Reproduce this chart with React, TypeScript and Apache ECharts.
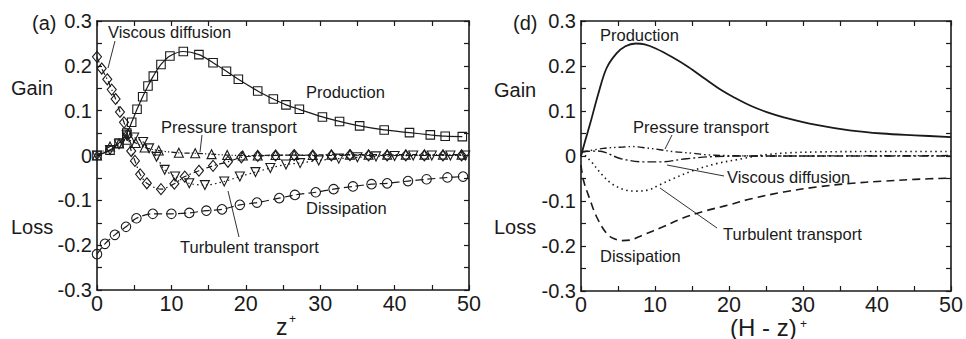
import React, { useEffect, useRef } from "react";
import * as echarts from "echarts";

// ---------- Data: panel (a), z+ ----------
const aProduction: [number, number][] = [
  [0, 0], [1.75, 0.012], [2.96, 0.028], [4.0, 0.05], [4.66, 0.074], [5.38, 0.103], [6.14, 0.131],
  [6.85, 0.155], [7.57, 0.177], [8.6, 0.203], [9.8, 0.222], [11.6, 0.232], [13.7, 0.225],
  [15.6, 0.207], [17.4, 0.188], [19.0, 0.17], [21.6, 0.144], [23.7, 0.126], [25.4, 0.113],
  [27.2, 0.103], [30.3, 0.086], [32.6, 0.076], [35.3, 0.066], [38.6, 0.057], [42.0, 0.051],
  [44.8, 0.046], [46.8, 0.043], [49.1, 0.042],
];
const aViscous: [number, number][] = [
  [0, 0.22], [0.63, 0.194], [1.38, 0.17], [1.98, 0.147], [2.5, 0.126], [3.09, 0.097], [3.63, 0.074],
  [4.12, 0.046], [4.6, 0.01], [5.1, -0.012], [5.8, -0.042], [6.7, -0.062], [8.6, -0.075],
  [10.4, -0.063], [11.8, -0.047], [13.7, -0.034], [15.6, -0.023], [17.6, -0.014], [19.4, -0.004],
  [21.6, -0.001], [24, 0], [26.5, 0.001], [29, 0], [31.5, 0], [34, 0.001], [36.5, 0], [39, 0],
  [41.5, 0], [44, 0], [46.5, 0], [49, 0],
];
const aPressure: [number, number][] = [
  [0, 0], [1.75, 0.02], [2.96, 0.027], [4.0, 0.035], [5.2, 0.028], [6.4, 0.018], [8.3, 0.011],
  [11.0, 0.006], [13.2, 0.005], [15.4, 0.003], [17.5, 0.001], [19.6, 0], [21.6, 0], [24, 0.001],
  [26.5, 0.001], [29, 0.001], [31.5, 0.002], [34, 0.002], [36.5, 0.002], [39, 0.002],
  [41.5, 0.002], [44, 0.002], [46.5, 0.002], [49, 0.002],
];
const aTurbulent: [number, number][] = [
  [0, 0], [1.75, 0.012], [2.96, 0.025], [4.0, 0.045], [5.0, 0.04], [6.2, 0.03], [7.0, 0.016],
  [8.0, -0.003], [9.1, -0.032], [10.5, -0.047], [12.4, -0.062], [14.5, -0.066], [17.1, -0.058],
  [19.2, -0.047], [21.3, -0.037], [23.3, -0.028], [25.4, -0.02], [27.3, -0.017], [29.8, -0.011],
  [32.5, -0.007], [35, -0.004], [37.5, -0.002], [40, -0.001], [42.5, 0], [45, 0], [47.5, 0],
  [49.5, 0],
];
const aDissipation: [number, number][] = [
  [0, -0.22], [1.07, -0.197], [2.4, -0.177], [3.9, -0.159], [5.3, -0.14], [7.5, -0.13],
  [10.0, -0.13], [12.4, -0.128], [14.7, -0.123], [16.8, -0.12], [19.2, -0.11], [21.5, -0.105],
  [24.5, -0.095], [26.6, -0.088], [29.4, -0.082], [31.8, -0.075], [34.4, -0.069], [36.9, -0.064],
  [39.0, -0.062], [41.8, -0.057], [44.3, -0.053], [47.1, -0.049], [49.2, -0.047],
];

// ---------- Data: panel (d), (H - z)+ ----------
const dProduction: [number, number][] = [
  [0, 0], [0.5, 0.03], [1.24, 0.072], [2.35, 0.139], [3.45, 0.195], [4.8, 0.228], [6.0, 0.244],
  [7.4, 0.25], [8.6, 0.248], [10.1, 0.239], [12.3, 0.22], [14.5, 0.198], [16.8, 0.171],
  [19.0, 0.146], [20.7, 0.13], [23.0, 0.111], [25.2, 0.097], [27.4, 0.086], [31.8, 0.069],
  [36.3, 0.057], [40.7, 0.05], [45.1, 0.046], [50, 0.042],
];
const dDissipation: [number, number][] = [
  [0, -0.02], [0.35, -0.055], [1.24, -0.098], [2.1, -0.135], [3.45, -0.172], [4.5, -0.184],
  [5.5, -0.188], [6.6, -0.187], [8.3, -0.176], [11.0, -0.158], [13.6, -0.139], [16.8, -0.122],
  [19.9, -0.109], [23.0, -0.095], [27.4, -0.08], [31.8, -0.069], [36.3, -0.061], [40.7, -0.056],
  [45.1, -0.052], [50, -0.049],
];
const dTurbulent: [number, number][] = [
  [0, 0.008], [0.3, 0.005], [1.4, -0.013], [2.7, -0.039], [4.1, -0.061], [5.85, -0.075],
  [7.4, -0.078], [9.2, -0.075], [10.5, -0.065], [12.5, -0.05], [15.2, -0.032], [18.3, -0.017],
  [21.8, -0.006], [24.5, 0.002], [28, 0.007], [32, 0.009], [40, 0.01], [50, 0.01],
];
const dPressure: [number, number][] = [
  [0, 0.008], [3.0, 0.017], [5.7, 0.02], [7.0, 0.021], [8.3, 0.019], [10.7, 0.014], [12.3, 0.01],
  [15.2, 0.006], [16.7, 0.003], [19.6, 0.001], [25, 0], [50, 0.001],
];
const dViscous: [number, number][] = [
  [0, 0.01], [2.3, 0.011], [5.4, -0.006], [8.5, -0.013], [10.7, -0.013], [14.3, -0.006],
  [18.3, -0.001], [25, 0], [50, 0],
];

const FONT = "'Liberation Sans', Arial, Helvetica, sans-serif";
const INK = "#1a1a1a";

function txt(x: number, y: number, text: string, size: number, align = "left") {
  return {
    type: "text",
    x,
    y,
    z: 100,
    style: {
      text,
      fontSize: size,
      fontFamily: FONT,
      fill: INK,
      textAlign: align,
      align,
      textVerticalAlign: "middle",
      verticalAlign: "middle",
    },
  };
}
function ln(x1: number, y1: number, x2: number, y2: number) {
  return {
    type: "line",
    z: 100,
    shape: { x1, y1, x2, y2 },
    style: { stroke: INK, lineWidth: 0.9 },
  };
}

function xAxes(grid: number) {
  const base = {
    gridIndex: grid,
    type: "value",
    min: 0,
    max: 50,
    interval: 5,
    splitLine: { show: false },
    axisLine: { show: true, onZero: false, lineStyle: { color: INK, width: 1.6 } },
    axisTick: { show: true, inside: true, length: 5, lineStyle: { color: INK, width: 1.2 } },
  };
  return [
    {
      ...base,
      position: "bottom",
      axisLabel: {
        show: true,
        margin: 5,
        fontSize: 21.5,
        lineHeight: 18,
        fontFamily: FONT,
        color: INK,
        formatter: (v: number) => (Math.round(v) % 10 === 0 ? String(Math.round(v)) : ""),
      },
    },
    { ...base, position: "top", axisLabel: { show: false } },
  ];
}
function yAxes(grid: number) {
  const base = {
    gridIndex: grid,
    type: "value",
    min: -0.3,
    max: 0.3,
    interval: 0.05,
    splitLine: { show: false },
    axisLine: { show: true, onZero: false, lineStyle: { color: INK, width: 1.6 } },
    axisTick: { show: true, inside: true, length: 5, lineStyle: { color: INK, width: 1.2 } },
  };
  return [
    {
      ...base,
      position: "left",
      axisLabel: {
        show: true,
        margin: 5,
        fontSize: 20,
        fontFamily: FONT,
        color: INK,
        formatter: (v: number) => {
          const t = v * 10;
          if (Math.abs(t - Math.round(t)) > 1e-6) return "";
          if (Math.abs(v) < 1e-9) return "0";
          return v.toFixed(1);
        },
      },
    },
    { ...base, position: "right", axisLabel: { show: false } },
  ];
}

function markerSeries(
  data: [number, number][],
  symbol: string,
  size: number | number[],
  dash: any,
  rotate = 0
) {
  return {
    type: "line",
    xAxisIndex: 0,
    yAxisIndex: 0,
    data,
    symbol,
    symbolSize: size,
    symbolRotate: rotate,
    showSymbol: true,
    smooth: 0.3,
    lineStyle: { color: INK, width: 1.2, type: dash },
    itemStyle: { color: "rgba(255,255,255,0)", borderColor: INK, borderWidth: 1.1 },
  };
}
function curveSeries(data: [number, number][], dash: any, width = 1.6) {
  return {
    type: "line",
    xAxisIndex: 2,
    yAxisIndex: 2,
    data,
    symbol: "none",
    smooth: 0.35,
    lineStyle: { color: INK, width, type: dash },
  };
}

export default function App() {
  const ref = useRef<HTMLDivElement>(null);
  useEffect(() => {
    if (!ref.current) return;
    const chart = echarts.init(ref.current, undefined, { renderer: "svg" });
    chart.setOption({
      animation: false,
      backgroundColor: "#ffffff",
      grid: [
        { left: 97, top: 21, width: 372, height: 269 },
        { left: 581, top: 21, width: 376, height: 270 },
      ],
      xAxis: [...xAxes(0), ...xAxes(1)],
      yAxis: [...yAxes(0), ...yAxes(1)],
      series: [
        markerSeries(aProduction, "rect", 8.5, "solid"),
        markerSeries(aViscous, "diamond", [9, 11], [6, 3, 1.5, 3]),
        markerSeries(aPressure, "triangle", 9, [5, 2, 1.2, 2, 1.2, 2]),
        markerSeries(aTurbulent, "triangle", 9, [1.5, 3], 180),
        markerSeries(aDissipation, "circle", 9.5, [8, 4]),
        curveSeries(dProduction, "solid", 1.8),
        curveSeries(dDissipation, [8, 5], 1.6),
        curveSeries(dTurbulent, [1.5, 3.5], 1.6),
        curveSeries(dPressure, [7, 3, 1.5, 3, 1.5, 3], 1.4),
        curveSeries(dViscous, [9, 3, 2, 3], 1.4),
      ],
      graphic: [
        // panel (a)
        txt(32, 23, "(a)", 20),
        txt(11, 88, "Gain", 20),
        txt(11, 227, "Loss", 20),
        txt(108, 32, "Viscous diffusion", 16.5),
        ln(115, 41, 108, 68),
        txt(306, 92, "Production", 16.5),
        txt(161, 127, "Pressure transport", 16.5),
        ln(202, 135, 200, 152),
        txt(306, 208, "Dissipation", 16.5),
        txt(180, 247, "Turbulent transport", 16.5),
        ln(228, 191, 239, 237),
        txt(276, 327, "z", 23),
        txt(289, 319, "+", 12),
        // panel (d)
        txt(730, 327, "(H - z)", 24),
        txt(800, 323.5, "+", 12),
        txt(513, 23, "(d)", 20),
        txt(494, 90, "Gain", 20),
        txt(494, 227, "Loss", 20),
        txt(600, 35, "Production", 16.5),
        txt(633, 127, "Pressure transport", 16.5),
        ln(672, 135, 665, 149),
        txt(727, 177, "Viscous diffusion", 16.5),
        ln(667, 165, 724, 176),
        txt(723, 234, "Turbulent transport", 16.5),
        ln(660, 188, 717, 228),
        txt(600, 256, "Dissipation", 16.5),
      ],
    });
    return () => chart.dispose();
  }, []);
  return (
    <div
      ref={ref}
      style={{ position: "fixed", left: 0, top: 0, width: 966, height: 339, background: "#fff" }}
    />
  );
}
